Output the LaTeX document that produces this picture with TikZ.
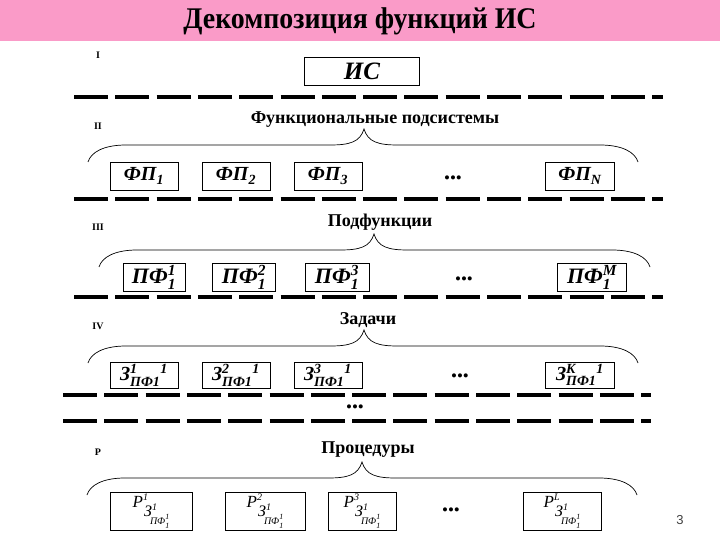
\documentclass[tikz,border=0pt]{standalone}
\usepackage{fontspec}
\usepackage{amsmath}
\setmainfont{Liberation Serif}
\setsansfont{Liberation Sans}
\definecolor{titlepink}{RGB}{250,155,200}
\newcommand\fsz[1]{\fontsize{#1}{#1}\selectfont}
\newcommand\procp[1]{P\rlap{\raisebox{7pt}{\fsz{10}#1}}\hspace{1pt}\raisebox{-9pt}{\fsz{16}З\rlap{\raisebox{6pt}{\fsz{10}1}}\hspace{-2pt}\raisebox{-8pt}{\fsz{10}ПФ\rlap{\raisebox{5pt}{\fsz{8}1}}\raisebox{-4pt}{\fsz{8}1}}}}
\tikzset{
  lvl/.style={font=\fsz{10}\bfseries},
  head/.style={font=\fsz{18}\bfseries},
  sep/.style={line width=4pt, dash pattern=on 34pt off 7.3pt},
  brc/.style={line width=0.7pt},
  blk/.style={draw, line width=0.8pt, inner sep=0pt},
  fbox/.style={blk, minimum height=28, font=\fsz{20}\bfseries\itshape},
  pbox/.style={blk, minimum height=28, font=\fsz{22}\bfseries\itshape},
  zbox/.style={blk, minimum height=26, font=\fsz{20}\bfseries\itshape},
  rbox/.style={blk, minimum height=38, font=\fsz{17}\itshape},
  etc/.style={font=\fsz{17}}
}
\begin{document}
\begin{tikzpicture}[x=1pt, y=-1pt]
\useasboundingbox (0,0) rectangle (720,540);

% Заголовок
\fill[titlepink] (0,0) rectangle (720,41);
\node[font=\fsz{30}\bfseries] (title) at (360,21) {\scalebox{0.93}[1]{Декомпозиция функций ИС}};

% Уровни
\foreach \lab/\y/\nm in {I/55/lv1, II/126/lv2, III/227/lv3, IV/326/lv4, P/452/lv5}
	\node[lvl] (\nm) at (98,\y) {\lab};

% Разделители
\foreach \y/\xa/\xb in {97/74/663, 199/74/663, 297/74/663, 395/63/651, 421/63/651}
	\draw[sep] (\xa,\y) -- (\xb,\y);
\node[etc] (dmid) at (355,409) {•••};

% Фигурные скобки
\foreach \l/\t/\r/\y in {88/364/638/162, 99/374/650/267, 88/364/638/363, 87/362/637/495}
	\draw[brc] (\l,\y) .. controls (\l+3,\y-10) and (\l+16,\y-17) .. (\l+38,\y-17)
		-- (\t-34,\y-17) .. controls (\t-14,\y-17) and (\t-4,\y-20) .. (\t,\y-33)
		.. controls (\t+4,\y-20) and (\t+14,\y-17) .. (\t+34,\y-17)
		-- (\r-38,\y-17) .. controls (\r-16,\y-17) and (\r-3,\y-10) .. (\r,\y);

% I
\node[blk, minimum width=115, minimum height=28, font=\fsz{25}\bfseries\itshape] (is) at (362,71) {ИС};

% II
\node[head] (hfp) at (375,120) {Функциональные подсистемы};
\node[fbox, minimum width=68] (fp1) at (144,176) {ФП\textsubscript{1}};
\node[fbox, minimum width=68] (fp2) at (236,176) {ФП\textsubscript{2}};
\node[fbox, minimum width=68] (fp3) at (328,176) {ФП\textsubscript{3}};
\node[etc] (dfp) at (453,180) {•••};
\node[fbox, minimum width=69] (fpN) at (580,176) {ФП\textsubscript{N}};

% III
\node[head] (hpf) at (380,222) {Подфункции};
\node[pbox, minimum width=62] (pf1) at (154,277) {$\text{ПФ}_{\text{1}}^{\text{1}}$};
\node[pbox, minimum width=63] (pf2) at (244,277) {$\text{ПФ}_{\text{1}}^{\text{2}}$};
\node[pbox, minimum width=64] (pf3) at (337,277) {$\text{ПФ}_{\text{1}}^{\text{3}}$};
\node[etc] (dpf) at (464,281) {•••};
\node[pbox, minimum width=69] (pfM) at (592,277) {$\text{ПФ}_{\text{1}}^{\text{М}}$};

% IV
\node[head] (hz) at (368,320) {Задачи};
\node[zbox, minimum width=68] (z1) at (144,375) {$\text{З}^{\text{1}}_{\text{ПФ1}}{}^{\text{1}}$};
\node[zbox, minimum width=68] (z2) at (236,375) {$\text{З}^{\text{2}}_{\text{ПФ1}}{}^{\text{1}}$};
\node[zbox, minimum width=68] (z3) at (328,375) {$\text{З}^{\text{3}}_{\text{ПФ1}}{}^{\text{1}}$};
\node[etc] (dz) at (460,378) {•••};
\node[zbox, minimum width=69] (zK) at (580,375) {$\text{З}^{\text{K}}_{\text{ПФ1}}{}^{\text{1}}$};

% P
\node[head] (hr) at (368,450) {Процедуры};
\node[rbox, minimum width=82] (r1) at (151,511) {\procp{1}};
\node[rbox, minimum width=80] (r2) at (265,511) {\procp{2}};
\node[rbox, minimum width=68] (r3) at (362,511) {\procp{3}};
\node[etc] (dr) at (451,512) {•••};
\node[rbox, minimum width=78] (rL) at (562,511) {\procp{L}};

\node[font=\fsz{13}\sffamily, text=black!75] (pg) at (680,520) {3};
\end{tikzpicture}
\end{document}
